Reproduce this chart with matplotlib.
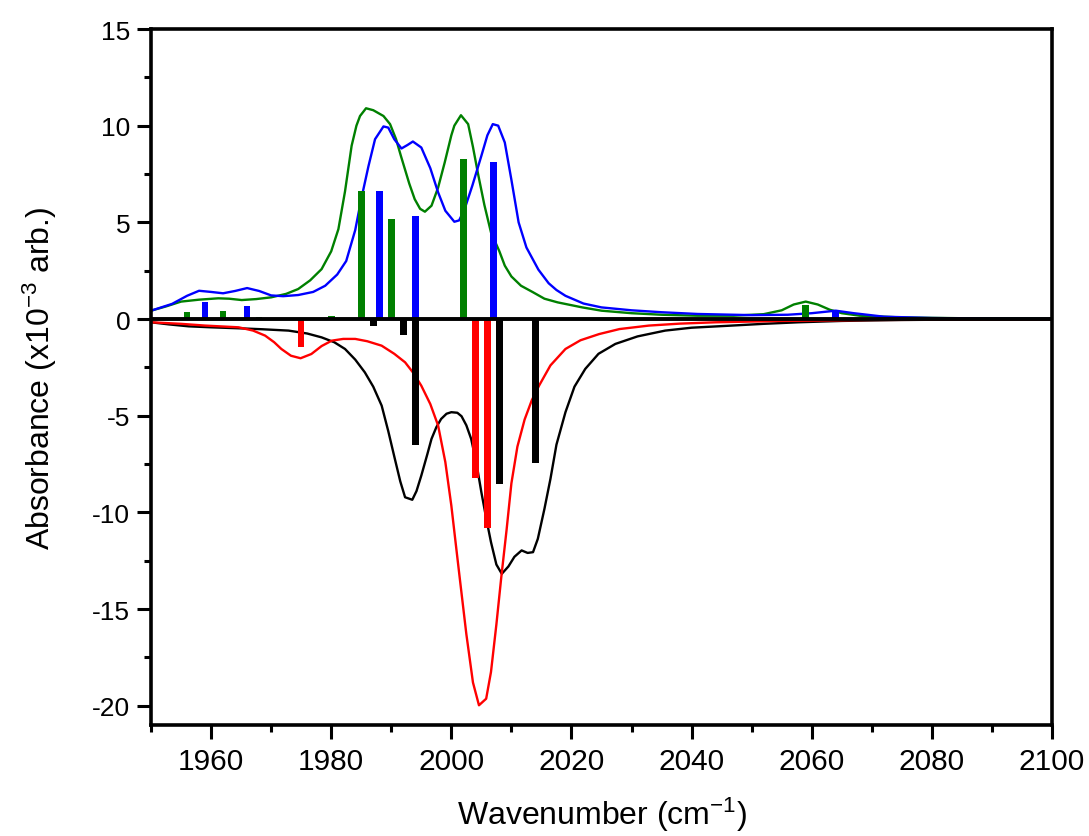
import numpy as np
import matplotlib.pyplot as plt
from matplotlib.ticker import MultipleLocator

plt.rcParams['font.family'] = ['Liberation Sans', 'DejaVu Sans']
plt.rcParams['mathtext.default'] = 'regular'
plt.rcParams['axes.unicode_minus'] = False

# CURVES
blue_x = [1950, 1953.5, 1956, 1958, 1960, 1962, 1964, 1966, 1968, 1970, 1972, 1974.5, 1977, 1979,
          1981, 1982.5, 1984, 1985, 1986.2, 1987.3, 1988.7, 1989.5, 1990.5, 1991.7, 1992.7, 1993.6,
          1995, 1996.5, 1997.8, 1999, 2000.5, 2001.3, 2002.2, 2003.5, 2005, 2006, 2006.9, 2007.8,
          2008.9, 2010, 2011.2, 2012.5, 2014.5, 2016.2, 2017.5, 2019, 2022, 2025, 2030, 2035, 2041,
          2050, 2056, 2060, 2064, 2067, 2072, 2080, 2090, 2100]
blue_y = [0.43, 0.78, 1.2, 1.46, 1.40, 1.33, 1.45, 1.6, 1.45, 1.22, 1.18, 1.24, 1.4, 1.72,
          2.3, 3.0, 4.6, 6.2, 7.9, 9.3, 9.96, 9.9, 9.3, 8.82, 9.0, 9.18,
          8.87, 7.8, 6.55, 5.6, 5.03, 5.1, 5.68, 6.9, 8.44, 9.5, 10.08, 10.0,
          9.13, 7.2, 5.0, 3.7, 2.55, 1.85, 1.5, 1.2, 0.8, 0.6, 0.45, 0.35, 0.26,
          0.2, 0.22, 0.3, 0.43, 0.3, 0.12, 0.05, 0.02, 0.01]

green_x = [1950, 1952.5, 1955, 1958, 1961.2, 1963, 1965.1, 1967.5, 1970, 1972.5, 1974.5, 1976.5,
           1978.4, 1980, 1981.2, 1982.3, 1983.4, 1984.2, 1984.8, 1985.8, 1987, 1988.7, 1989.8,
           1990.8, 1991.6, 1993, 1993.9, 1994.8, 1995.6, 1996.7, 1997.8, 1998.9, 2000, 2000.5,
           2001.6, 2002.8, 2003.6, 2004.4, 2005.5, 2006.6, 2008, 2008.9, 2010, 2011.6, 2013.5,
           2015.5, 2017.7, 2021.8, 2025, 2030, 2035, 2041, 2047, 2052, 2055, 2057, 2059, 2061,
           2063, 2065, 2068, 2075, 2085, 2100]
green_y = [0.43, 0.65, 0.9, 1.0, 1.07, 1.05, 0.98, 1.03, 1.12, 1.3, 1.55, 2.0,
           2.58, 3.5, 4.65, 6.6, 8.96, 10.0, 10.5, 10.9, 10.8, 10.5, 10.08,
           9.3, 8.44, 7.0, 6.2, 5.7, 5.55, 5.86, 6.8, 8.1, 9.5, 10.0,
           10.54, 10.08, 8.9, 7.58, 5.9, 4.48, 3.5, 2.76, 2.2, 1.72, 1.4,
           1.05, 0.86, 0.6, 0.43, 0.3, 0.22, 0.17, 0.17, 0.25, 0.45, 0.75, 0.9, 0.75,
           0.48, 0.3, 0.17, 0.08, 0.04, 0.02]

black_x = [1950, 1953, 1956.3, 1960, 1964.6, 1968.5, 1972.9, 1976, 1978.4, 1980.5, 1982.3, 1984,
           1985.6, 1987, 1988.4, 1989.5, 1990.6, 1991.5, 1992.3, 1993.5, 1994.2, 1995, 1996,
           1996.7, 1997.5, 1998.3, 1999.2, 2000, 2001, 2001.7, 2002.5, 2003.3, 2004.2, 2005,
           2005.8, 2006.6, 2007.5, 2008.4, 2009.5, 2010.5, 2011.7, 2012.7, 2013.6, 2014.4,
           2015.5, 2016.5, 2017.5, 2019, 2020.5, 2022.3, 2024.5, 2027.3, 2031, 2035.6, 2040,
           2046.7, 2052, 2057.8, 2065, 2075, 2090, 2100]
black_y = [-0.17, -0.28, -0.38, -0.43, -0.48, -0.53, -0.6, -0.75, -0.95, -1.2, -1.55, -2.1,
           -2.76, -3.5, -4.48, -5.8, -7.24, -8.4, -9.22, -9.35, -8.9, -8.1, -7.0,
           -6.2, -5.6, -5.17, -4.9, -4.82, -4.85, -5.03, -5.5, -6.2, -7.5, -8.96,
           -10.3, -11.54, -12.7, -13.18, -12.8, -12.3, -11.97, -12.1, -12.06, -11.37,
           -9.82, -8.27, -6.5, -4.82, -3.5, -2.58, -1.8, -1.29, -0.9, -0.6, -0.45,
           -0.34, -0.25, -0.17, -0.1, -0.05, -0.02, -0.01]

red_x = [1950, 1955, 1959, 1964.6, 1967, 1969, 1970.5, 1971.7, 1973.3, 1974.9, 1976.7, 1978.4,
         1980.1, 1982, 1984, 1986, 1988.4, 1990.5, 1992.3, 1993.7, 1995, 1996.5, 1997.8, 1999,
         2000, 2000.8, 2001.4, 2002.5, 2003.6, 2004.6, 2005.8, 2006.6, 2007.5, 2008.3, 2009.2,
         2010, 2011, 2012.2, 2013.4, 2014.6, 2016.5, 2019, 2021.5, 2024.6, 2028, 2032.9, 2038,
         2044, 2055, 2070, 2100]
red_y = [-0.17, -0.25, -0.34, -0.43, -0.6, -0.86, -1.2, -1.55, -1.9, -2.03, -1.81, -1.4,
         -1.12, -1.03, -1.03, -1.15, -1.38, -1.8, -2.24, -2.8, -3.45, -4.4, -5.51, -7.4,
         -9.65, -11.8, -13.4, -16.3, -18.8, -19.98, -19.64, -18.26, -15.8, -13.4, -10.9,
         -8.5, -6.6, -5.2, -4.2, -3.45, -2.4, -1.55, -1.1, -0.78, -0.52, -0.34, -0.24,
         -0.17, -0.1, -0.05, -0.02]

# STICKS
green_sx = [1956, 1962, 1968, 1980, 1985, 1990, 2002, 2059]
green_sh = [0.38, 0.43, 0.12, 0.17, 6.6, 5.17, 8.3, 0.7]
blue_sx = [1959, 1966, 1988, 1994, 2007, 2064]
blue_sh = [0.86, 0.69, 6.63, 5.34, 8.13, 0.35]
black_sx = [1987, 1992, 1994, 2008, 2014]
black_sh = [-0.36, -0.83, -6.5, -8.55, -7.43]
red_sx = [1975, 2004, 2006]
red_sh = [-1.43, -8.2, -10.83]

GREEN = "#008000"

# FIGURE
fig = plt.figure(figsize=(10.89, 8.37), dpi=100)
ax = fig.add_axes([151 / 1089, 1 - 726 / 837, 901 / 1089, 696 / 837])

ax.plot(black_x, black_y, color="black", lw=1.7)
ax.plot(red_x, red_y, color="red", lw=1.7)
ax.plot(green_x, green_y, color=GREEN, lw=1.7)
ax.plot(blue_x, blue_y, color="blue", lw=1.7)

ax.bar(green_sx, green_sh, width=1.1, color=GREEN, zorder=3)
ax.bar(blue_sx, blue_sh, width=1.1, color="blue", zorder=3)
ax.bar(black_sx, black_sh, width=1.1, color="black", zorder=3)
ax.bar(red_sx, red_sh, width=1.1, color="red", zorder=3)

ax.axhline(0, color="black", lw=2.8, zorder=4)

ax.set_xlim(1950, 2100)
ax.set_ylim(-21, 15)
ax.xaxis.set_major_locator(MultipleLocator(20))
ax.xaxis.set_minor_locator(MultipleLocator(10))
ax.yaxis.set_major_locator(MultipleLocator(5))
ax.yaxis.set_minor_locator(MultipleLocator(2.5))

for s in ax.spines.values():
    s.set_linewidth(2.6)
ax.tick_params(which="major", length=10, width=2.2)
ax.tick_params(which="minor", length=5, width=2.2)
ax.tick_params(axis="y", which="major", labelsize=19, pad=5)
ax.tick_params(axis="x", which="major", labelsize=21.5, pad=6)

ax.set_xlabel("Wavenumber (cm$^{-1}$)", fontsize=23, labelpad=14)
ax.set_ylabel("Absorbance (x10$^{-3}$ arb.)", fontsize=23, labelpad=24)

fig.savefig("out.png", dpi=100)
